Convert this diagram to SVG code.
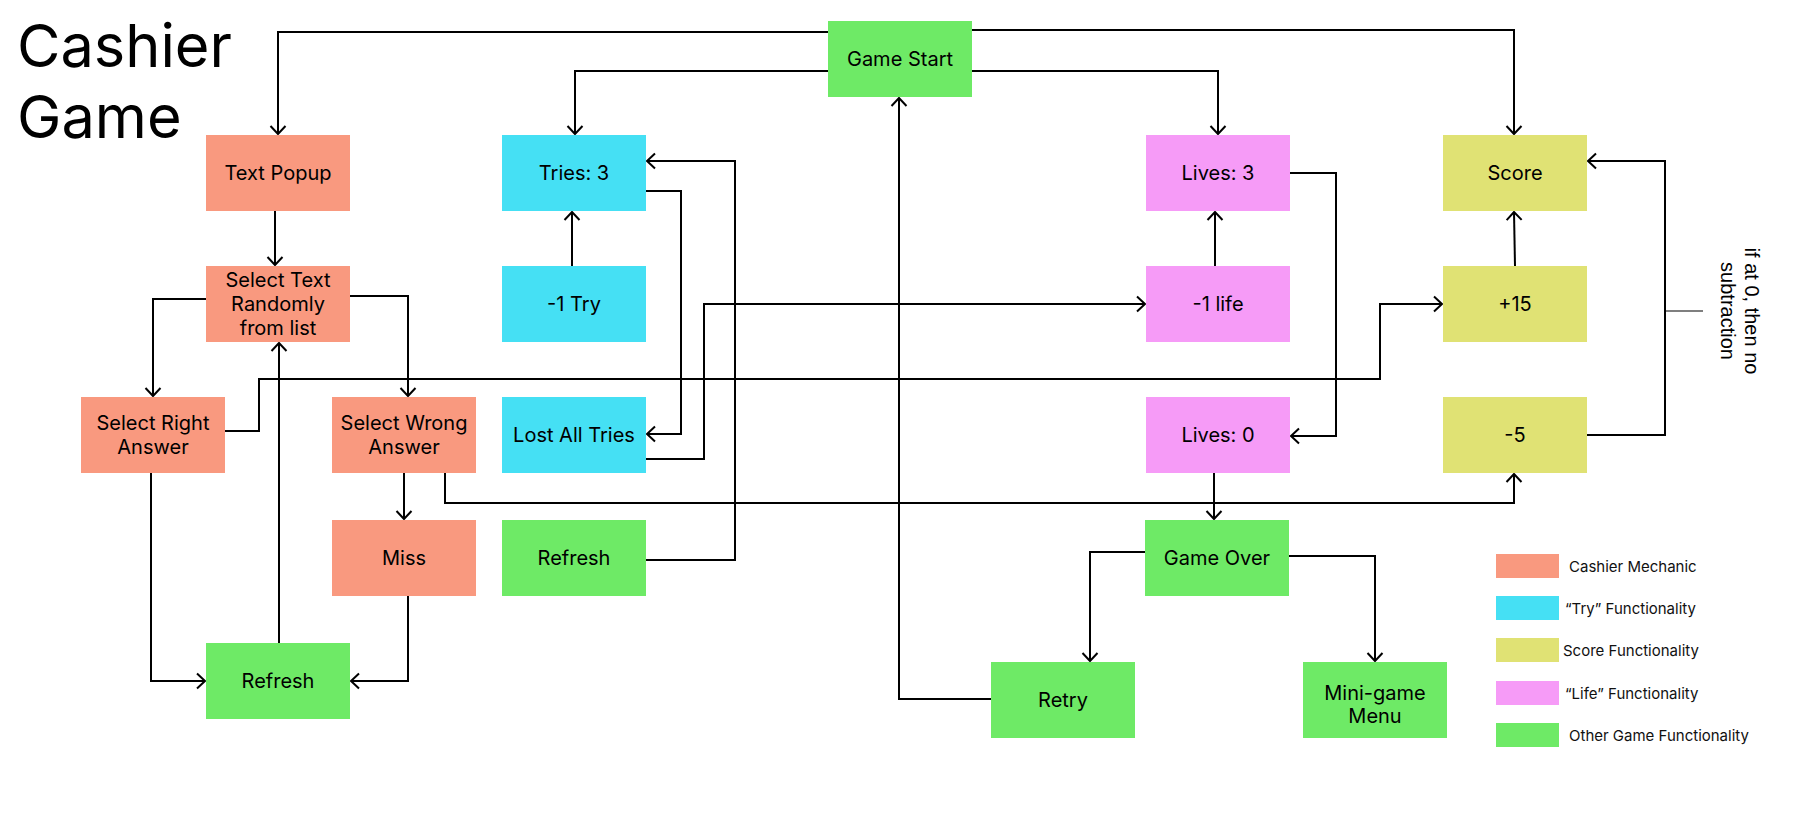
<svg xmlns="http://www.w3.org/2000/svg" width="1798" height="820" viewBox="0 0 1798 820">
<defs>
<style>
.t{font-family:Inter,"Liberation Sans",sans-serif;font-size:20px;fill:#000;text-anchor:middle}
.lg{font-family:Inter,"Liberation Sans",sans-serif;font-size:15px;fill:#111}
.title{font-family:Inter,"Liberation Sans",sans-serif;font-size:59.5px;fill:#000}
.cm{fill:#F9997F}.tr{fill:#45E0F4}.sc{fill:#E0E274}.lf{fill:#F69BF7}.gn{fill:#6EEA66}
.c{fill:none;stroke:#000;stroke-width:2;marker-end:url(#arr)}
</style>
<marker id="arr" viewBox="-10 -10 20 20" markerWidth="20" markerHeight="20" refX="0" refY="0" orient="auto" markerUnits="userSpaceOnUse">
<path d="M-8,-7.5 L0,0 L-8,7.5" fill="none" stroke="#000" stroke-width="2"/>
</marker>
</defs>
<rect width="1798" height="820" fill="#fff"/>
<g id="title">
<text class="title" x="17" y="67">Cashier</text>
<text class="title" x="17" y="138">Game</text>
</g>
<g id="connectors">
<polyline class="c" points="828,32 278,32 278,134"/>
<polyline class="c" points="828,71 575,71 575,134"/>
<polyline class="c" points="972,30 1514,30 1514,134"/>
<polyline class="c" points="972,71 1218,71 1218,134"/>
<polyline class="c" points="275,211 275,265"/>
<polyline class="c" points="572,266 572,212"/>
<polyline class="c" points="646,560 735,560 735,161 647,161"/>
<polyline class="c" points="646,191 681,191 681,434 647,434"/>
<polyline class="c" points="646,459 704,459 704,304 1145,304"/>
<polyline class="c" points="1215,266 1215,212"/>
<polyline class="c" points="1290,173 1336,173 1336,436 1291,436"/>
<polyline class="c" points="1214,473 1214,519"/>
<polyline class="c" points="206,299 153,299 153,396"/>
<polyline class="c" points="350,296 408,296 408,396"/>
<polyline class="c" points="225,431 259,431 259,379 1380,379 1380,304 1442,304"/>
<polyline class="c" points="445,473 445,503 1514,503 1514,474"/>
<polyline class="c" points="404,473 404,519"/>
<polyline class="c" points="408,596 408,681 351,681"/>
<polyline class="c" points="151,473 151,681 205,681"/>
<polyline class="c" points="279,643 279,343"/>
<polyline class="c" points="1587,435 1665,435 1665,161 1588,161"/>
<polyline class="c" points="991,699 899,699 899,98"/>
<polyline class="c" points="1145,552 1090,552 1090,661"/>
<polyline class="c" points="1289,556 1375,556 1375,661"/>
<polyline class="c" points="1515,266 1514,212"/>
<line x1="1665" y1="311" x2="1703" y2="311" stroke="#000" stroke-width="1.2"/>
</g>
<g id="note">
<text font-family="'Liberation Sans',Arial,sans-serif" font-size="20" fill="#000" text-anchor="middle" transform="translate(1745,311) rotate(90)"><tspan x="0" y="0">if at 0, then no</tspan><tspan x="0" y="24">subtraction</tspan></text>
</g>
<g id="game-start"><rect class="gn" x="828" y="21" width="144" height="76"/><text class="t" x="900" y="66">Game Start</text></g>
<g id="text-popup"><rect class="cm" x="206" y="135" width="144" height="76"/><text class="t" x="278" y="180">Text Popup</text></g>
<g id="tries-3"><rect class="tr" x="502" y="135" width="144" height="76"/><text class="t" x="574" y="180">Tries: 3</text></g>
<g id="lives-3"><rect class="lf" x="1146" y="135" width="144" height="76"/><text class="t" x="1218" y="180">Lives: 3</text></g>
<g id="score"><rect class="sc" x="1443" y="135" width="144" height="76"/><text class="t" x="1515" y="180">Score</text></g>
<g id="select-text"><rect class="cm" x="206" y="266" width="144" height="76"/><text class="t" x="278" y="287">Select Text</text><text class="t" x="278" y="311">Randomly</text><text class="t" x="278" y="335">from list</text></g>
<g id="minus-try"><rect class="tr" x="502" y="266" width="144" height="76"/><text class="t" x="574" y="311">-1 Try</text></g>
<g id="minus-life"><rect class="lf" x="1146" y="266" width="144" height="76"/><text class="t" x="1218" y="311">-1 life</text></g>
<g id="plus15"><rect class="sc" x="1443" y="266" width="144" height="76"/><text class="t" x="1515" y="311">+15</text></g>
<g id="select-right"><rect class="cm" x="81" y="397" width="144" height="76"/><text class="t" x="153" y="430">Select Right</text><text class="t" x="153" y="454">Answer</text></g>
<g id="select-wrong"><rect class="cm" x="332" y="397" width="144" height="76"/><text class="t" x="404" y="430">Select Wrong</text><text class="t" x="404" y="454">Answer</text></g>
<g id="lost-all-tries"><rect class="tr" x="502" y="397" width="144" height="76"/><text class="t" x="574" y="442">Lost All Tries</text></g>
<g id="lives-0"><rect class="lf" x="1146" y="397" width="144" height="76"/><text class="t" x="1218" y="442">Lives: 0</text></g>
<g id="minus5"><rect class="sc" x="1443" y="397" width="144" height="76"/><text class="t" x="1515" y="442">-5</text></g>
<g id="miss"><rect class="cm" x="332" y="520" width="144" height="76"/><text class="t" x="404" y="565">Miss</text></g>
<g id="refresh-mid"><rect class="gn" x="502" y="520" width="144" height="76"/><text class="t" x="574" y="565">Refresh</text></g>
<g id="game-over"><rect class="gn" x="1145" y="520" width="144" height="76"/><text class="t" x="1217" y="565">Game Over</text></g>
<g id="refresh-left"><rect class="gn" x="206" y="643" width="144" height="76"/><text class="t" x="278" y="688">Refresh</text></g>
<g id="retry"><rect class="gn" x="991" y="662" width="144" height="76"/><text class="t" x="1063" y="707">Retry</text></g>
<g id="minigame-menu"><rect class="gn" x="1303" y="662" width="144" height="76"/><text class="t" x="1375" y="700">Mini-game</text><text class="t" x="1375" y="723">Menu</text></g>
<g id="legend">
<rect class="cm" x="1496" y="554" width="63" height="24"/><text class="lg" x="1569" y="572">Cashier Mechanic</text>
<rect class="tr" x="1496" y="596" width="63" height="24"/><text class="lg" x="1565" y="614">“Try” Functionality</text>
<rect class="sc" x="1496" y="638" width="63" height="24"/><text class="lg" x="1563" y="656">Score Functionality</text>
<rect class="lf" x="1496" y="681" width="63" height="24"/><text class="lg" x="1565" y="699">“Life” Functionality</text>
<rect class="gn" x="1496" y="723" width="63" height="24"/><text class="lg" x="1569" y="741">Other Game Functionality</text>
</g>
</svg>
